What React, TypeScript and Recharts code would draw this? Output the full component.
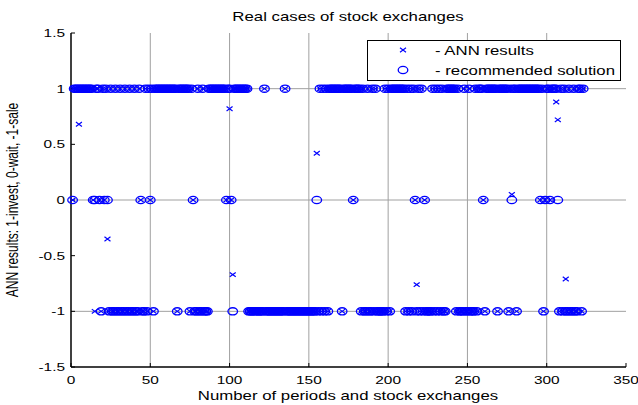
import { ScatterChart, Scatter, XAxis, YAxis, CartesianGrid } from "recharts";

const xTicks = [0, 50, 100, 150, 200, 250, 300, 350];
const yTicks = [-1.5, -1, -0.5, 0, 0.5, 1, 1.5];
const gridX = [50, 100, 150, 200, 250, 300];
const gridY = [-1, 0, 1];

// recommended decision for each period, starting at period 1
// "+" = 1 invest, "0" = 0 wait, "-" = -1 sale
const recommendedCodes = [
  "0++++++++++++00++0-+0+0-+--+--+--+--+--+--+0--+-+0",
  "+-++++++++++++++-+++++++-+0--+--+---+++++++++++0++",
  "0-+++++++++----------+------------+---------------",
  "----0-+-+-+-++++++++-++++++0++++-+--+--+-+-----+-+",
  "-+++++++++-+-+-+0-+-+-0----+-+-+-+--++++++-+---+--",
  "+---+-+++0-+++++++-++++++-+0++-++++++++++++++0+-0+",
  "+0++++0-+-+--+--+--++-+",
];

// ANN outputs that differ from the recommended value [period, value]
const annOutliers: [number, number][] = [
  [5, 0.68],
  [15, -1],
  [23, -0.35],
  [100, 0.82],
  [102, -0.67],
  [155, 0.42],
  [218, -0.76],
  [278, 0.05],
  [306, 0.88],
  [307, 0.72],
  [312, -0.71],
];

const recommended = recommendedCodes
  .join("")
  .split("")
  .map((c, i) => ({ x: i + 1, y: c === "+" ? 1 : c === "-" ? -1 : 0 }));

const annMap = new Map(annOutliers);
const annResults = recommended.map((p) => ({
  x: p.x,
  y: annMap.has(p.x) ? (annMap.get(p.x) as number) : p.y,
}));

const FONT = "'Liberation Sans', Arial, sans-serif";
const BLUE = "#0000ff";

const CircleMark = (props: any) => (
  <ellipse cx={props.cx} cy={props.cy} rx={4.8} ry={3.6} fill="none" stroke={BLUE} strokeWidth={1.3} />
);

const CrossMark = (props: any) => {
  const { cx, cy } = props;
  return (
    <path
      d={`M${cx - 3},${cy - 2.2}L${cx + 3},${cy + 2.2}M${cx - 3},${cy + 2.2}L${cx + 3},${cy - 2.2}`}
      stroke={BLUE}
      strokeWidth={1.2}
      fill="none"
    />
  );
};

const XTick = ({ x, y, payload }: any) => (
  <text
    transform={`translate(${x},${y + 17}) scale(1.4,1)`}
    textAnchor="middle"
    fontSize={11}
    fontFamily={FONT}
    fill="#000"
  >
    {payload.value}
  </text>
);

const YTick = ({ x, y, payload }: any) => (
  <text
    transform={`translate(${x - 6},${y + 4}) scale(1.4,1)`}
    textAnchor="end"
    fontSize={11}
    fontFamily={FONT}
    fill="#000"
  >
    {payload.value}
  </text>
);

const NoTick = () => <g />;

export default function App() {
  return (
    <div style={{ position: "absolute", left: 0, top: 0, width: 638, height: 405, background: "#fff" }}>
      <ScatterChart width={638} height={405} margin={{ top: 33, right: 12, bottom: 0, left: 0 }}>
        <CartesianGrid verticalValues={gridX} horizontalValues={gridY} stroke="#a0a0a0" strokeWidth={1} />
        <XAxis
          dataKey="x"
          type="number"
          domain={[0, 350]}
          ticks={xTicks}
          height={38}
          tickSize={-4}
          tickMargin={4}
          tick={XTick}
          axisLine={{ stroke: "#000", strokeWidth: 1.5 }}
          tickLine={{ stroke: "#000" }}
        />
        <XAxis
          xAxisId="top"
          orientation="top"
          type="number"
          domain={[0, 350]}
          ticks={xTicks}
          height={0}
          tickSize={-4}
          tick={NoTick}
          axisLine={{ stroke: "#000", strokeWidth: 1.5 }}
          tickLine={{ stroke: "#000" }}
        />
        <YAxis
          dataKey="y"
          type="number"
          domain={[-1.5, 1.5]}
          ticks={yTicks}
          width={71}
          tickSize={-4}
          tickMargin={4}
          tick={YTick}
          axisLine={{ stroke: "#000", strokeWidth: 1.5 }}
          tickLine={{ stroke: "#000" }}
        />
        <YAxis
          yAxisId="right"
          orientation="right"
          type="number"
          domain={[-1.5, 1.5]}
          ticks={yTicks}
          width={0}
          tickSize={-4}
          tick={NoTick}
          axisLine={{ stroke: "#000", strokeWidth: 1.5 }}
          tickLine={{ stroke: "#000" }}
        />
        <Scatter name="recommended solution" data={recommended} shape={CircleMark} isAnimationActive={false} />
        <Scatter name="ANN results" data={annResults} shape={CrossMark} isAnimationActive={false} />
      </ScatterChart>
      <svg
        width={638}
        height={405}
        style={{ position: "absolute", left: 0, top: 0, pointerEvents: "none" }}
        fontFamily={FONT}
      >
        <text transform="translate(348,21) scale(1.4,1)" textAnchor="middle" fontSize={12} fill="#000">
          Real cases of stock exchanges
        </text>
        <text transform="translate(348,400) scale(1.4,1)" textAnchor="middle" fontSize={12} fill="#000">
          Number of periods and stock exchanges
        </text>
        <text transform="translate(18,200) scale(1.4,1) rotate(-90)" textAnchor="middle" fontSize={12} fill="#000">
          ANN results: 1-invest, 0-wait, -1-sale
        </text>
        <rect x={367.5} y={40.5} width={253} height={40} fill="#fff" stroke="#000" strokeWidth={1} />
        <CrossMark cx={403} cy={50} />
        <text transform="translate(435,55) scale(1.4,1)" fontSize={12} fill="#000">
          - ANN results
        </text>
        <CircleMark cx={403} cy={70} />
        <text transform="translate(435,75) scale(1.4,1)" fontSize={12} fill="#000">
          - recommended solution
        </text>
      </svg>
    </div>
  );
}
